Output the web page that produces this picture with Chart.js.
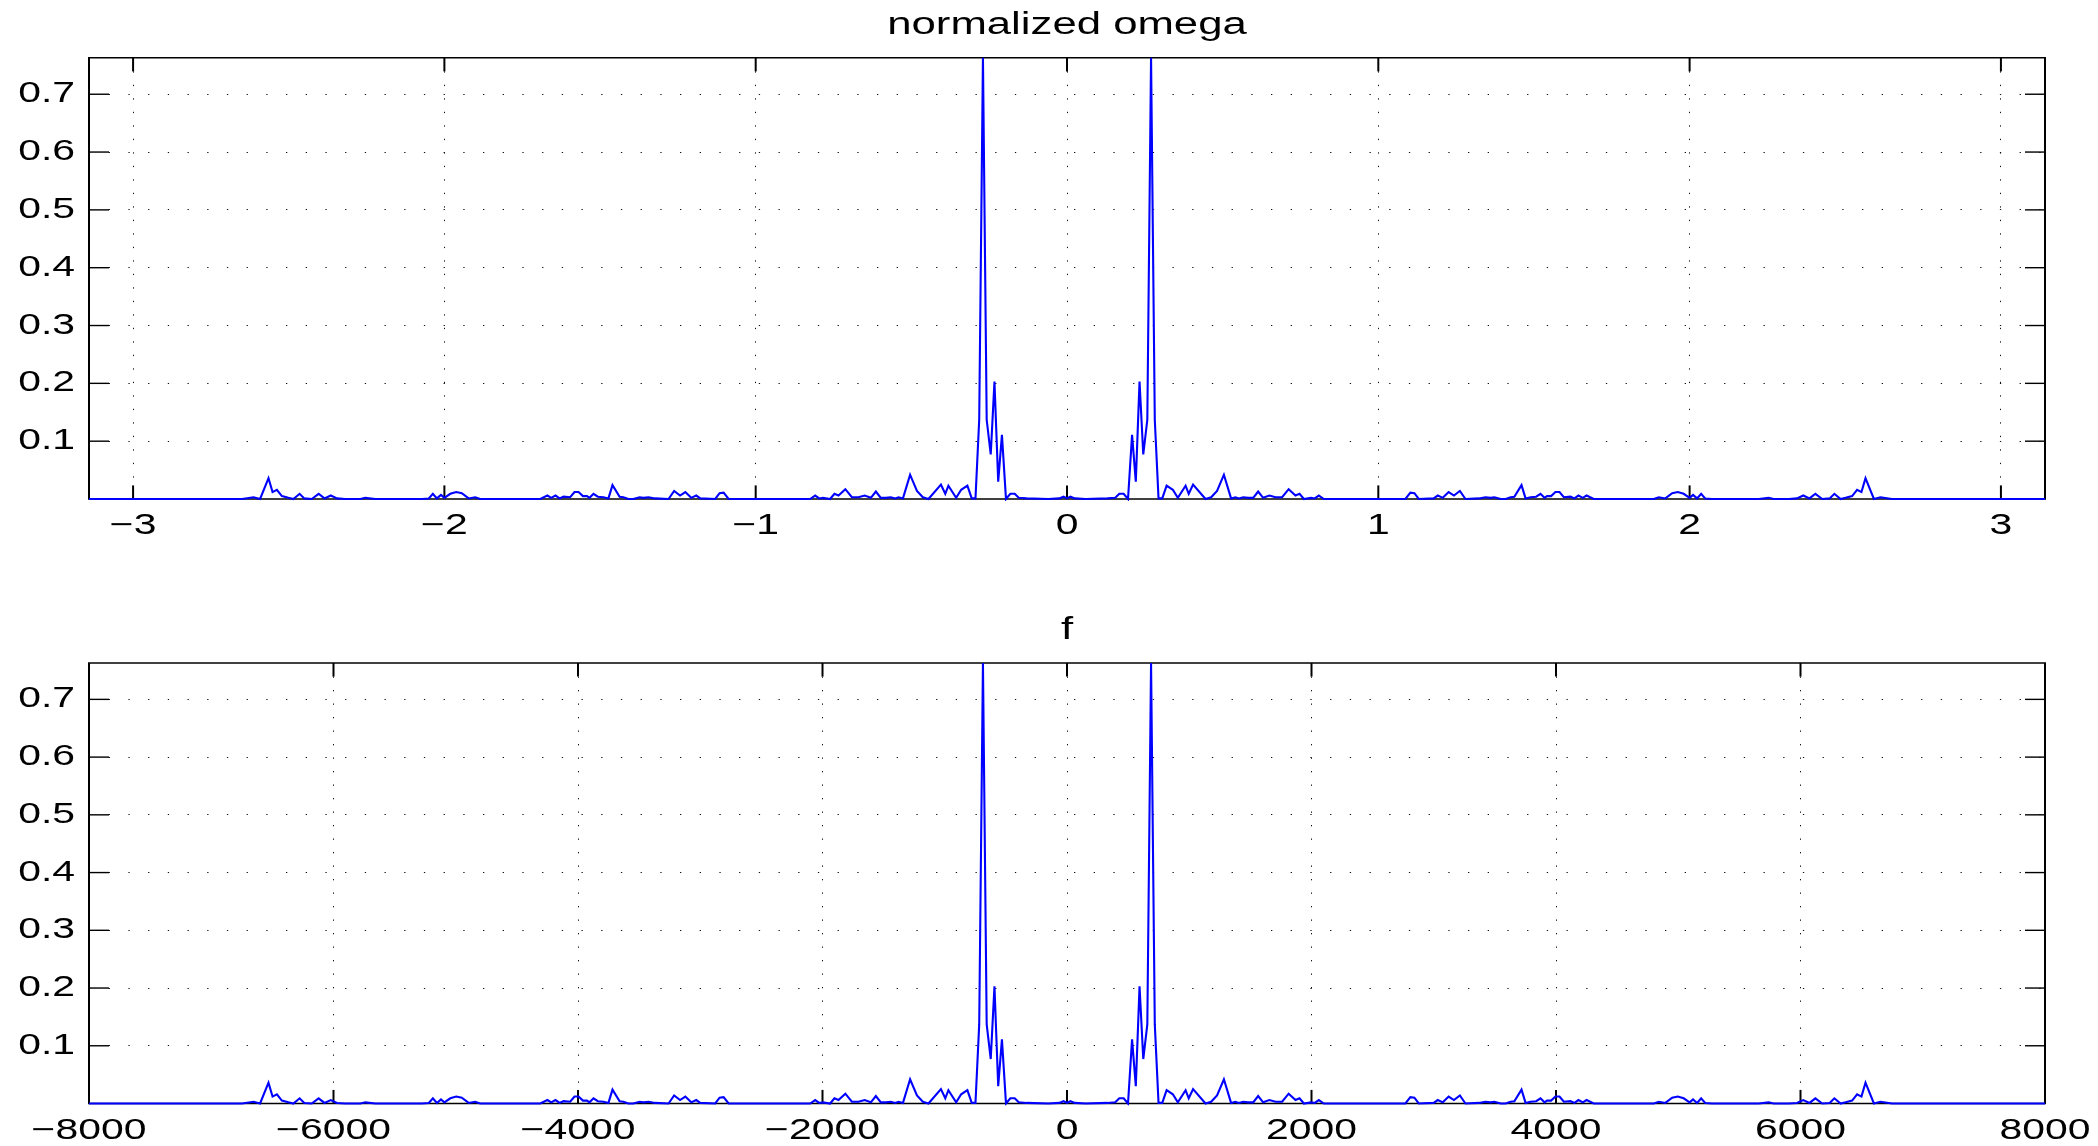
<!DOCTYPE html>
<html>
<head>
<meta charset="utf-8">
<script src="https://cdn.jsdelivr.net/npm/chart.js@4.4.0/dist/chart.umd.min.js"></script>
<style>
html, body { margin: 0; padding: 0; background: #fff; overflow: hidden; }
canvas { display: block; }
</style>
</head>
<body>
<canvas id="c1" width="2098" height="573"></canvas>
<canvas id="c2" width="2098" height="573"></canvas>
<script>
// ---------- data ----------
const omega = [
  -3.1416, -2.650, -2.613, -2.592, -2.565, -2.552, -2.538, -2.522, -2.501, -2.485,
  -2.465, -2.450, -2.426, -2.404, -2.385, -2.365, -2.345, -2.319, -2.270, -2.254,
  -2.222, -2.072, -2.050, -2.037, -2.024, -2.011, -2.000, -1.981, -1.962, -1.944,
  -1.922, -1.901, -1.885, -1.692, -1.669, -1.657, -1.643, -1.630, -1.617, -1.596,
  -1.582, -1.569, -1.555, -1.542, -1.534, -1.521, -1.507, -1.489, -1.473, -1.460,
  -1.437, -1.425, -1.409, -1.393, -1.373, -1.361, -1.344, -1.323, -1.280, -1.262,
  -1.243, -1.226, -1.207, -1.191, -1.178, -1.130, -1.116, -1.103, -1.087, -0.825,
  -0.809, -0.796, -0.784, -0.761, -0.747, -0.734, -0.712, -0.691, -0.670, -0.650,
  -0.630, -0.614, -0.598, -0.582, -0.566, -0.552, -0.541, -0.527, -0.504, -0.482,
  -0.463, -0.445, -0.405, -0.391, -0.381, -0.356, -0.340, -0.320, -0.306, -0.294,
  -0.282, -0.270, -0.258, -0.245, -0.233, -0.221, -0.209, -0.196, -0.182, -0.168,
  -0.155, -0.130, -0.060, -0.025, -0.011, 0.000,
  0.011, 0.025, 0.060, 0.130, 0.155, 0.168, 0.182, 0.196, 0.209, 0.221,
  0.233, 0.245, 0.258, 0.270, 0.282, 0.294, 0.306, 0.320, 0.340, 0.356,
  0.381, 0.391, 0.405, 0.445, 0.463, 0.482, 0.504, 0.527, 0.541, 0.552,
  0.566, 0.582, 0.598, 0.614, 0.630, 0.650, 0.670, 0.691, 0.712, 0.734,
  0.747, 0.761, 0.784, 0.796, 0.809, 0.825, 1.087, 1.103, 1.116, 1.130,
  1.178, 1.191, 1.207, 1.226, 1.243, 1.262, 1.280, 1.323, 1.344, 1.361,
  1.373, 1.393, 1.409, 1.425, 1.437, 1.460, 1.473, 1.489, 1.507, 1.521,
  1.534, 1.542, 1.555, 1.569, 1.582, 1.596, 1.617, 1.630, 1.643, 1.657,
  1.669, 1.692, 1.885, 1.901, 1.922, 1.944, 1.962, 1.981, 2.000, 2.011,
  2.024, 2.037, 2.050, 2.072, 2.222, 2.254, 2.270, 2.319, 2.345, 2.365,
  2.385, 2.404, 2.426, 2.450, 2.465, 2.485, 2.501, 2.522, 2.538, 2.552,
  2.565, 2.592, 2.613, 2.650, 3.1416
];
const magnitude = [
  0, 0, 0.003, 0, 0.036, 0.012, 0.016, 0.005, 0.002, 0,
  0.009, 0.001, 0, 0.009, 0.001, 0.006, 0.001, 0, 0, 0.002,
  0, 0, 0.001, 0.009, 0.001, 0.007, 0.002, 0.009, 0.012, 0.010,
  0.001, 0.003, 0, 0, 0.006, 0.002, 0.006, 0.001, 0.004, 0.003,
  0.012, 0.012, 0.005, 0.005, 0.002, 0.009, 0.004, 0.003, 0.001, 0.024,
  0.004, 0.003, 0, 0, 0.003, 0.002, 0.003, 0.001, 0, 0.014,
  0.006, 0.012, 0.002, 0.006, 0.001, 0, 0.010, 0.011, 0, 0,
  0.006, 0.001, 0.002, 0, 0.009, 0.006, 0.017, 0.003, 0.003, 0.006,
  0.002, 0.013, 0.002, 0.002, 0.003, 0.001, 0.003, 0.001, 0.042, 0.014,
  0.003, 0, 0.025, 0.009, 0.023, 0.002, 0.016, 0.023, 0.001, 0.001,
  0.137, 0.763, 0.137, 0.077, 0.203, 0.030, 0.111, 0, 0.009, 0.009,
  0.002, 0.001, 0, 0.001, 0.004, 0.001,
  0.004, 0.001, 0, 0.001, 0.002, 0.009, 0.009, 0, 0.111, 0.030,
  0.203, 0.077, 0.137, 0.763, 0.137, 0.001, 0.001, 0.023, 0.016, 0.002,
  0.023, 0.009, 0.025, 0, 0.003, 0.014, 0.042, 0.001, 0.003, 0.001,
  0.003, 0.002, 0.002, 0.013, 0.002, 0.006, 0.003, 0.003, 0.017, 0.006,
  0.009, 0, 0.002, 0.001, 0.006, 0, 0, 0.011, 0.010, 0,
  0.001, 0.006, 0.002, 0.012, 0.006, 0.014, 0, 0.001, 0.003, 0.002,
  0.003, 0, 0, 0.003, 0.004, 0.024, 0.001, 0.003, 0.004, 0.009,
  0.002, 0.005, 0.005, 0.012, 0.012, 0.003, 0.004, 0.001, 0.006, 0.002,
  0.006, 0, 0, 0.003, 0.001, 0.010, 0.012, 0.009, 0.002, 0.007,
  0.001, 0.009, 0.001, 0, 0, 0.002, 0, 0, 0.001, 0.006,
  0.001, 0.009, 0, 0.001, 0.009, 0, 0.002, 0.005, 0.016, 0.012,
  0.036, 0, 0.003, 0, 0
];
const sampleRate = 16000;           // Hz, so f = omega * fs / (2*pi)
const titles = ['normalized omega', 'f'];
const omegaTicks = [-3, -2, -1, 0, 1, 2, 3];
const omegaTickLabels = ['\u22123', '\u22122', '\u22121', '0', '1', '2', '3'];
const freqTicks = [-8000, -6000, -4000, -2000, 0, 2000, 4000, 6000, 8000];
const freqTickLabels = ['\u22128000', '\u22126000', '\u22124000', '\u22122000', '0', '2000', '4000', '6000', '8000'];
const magTicks = [0.1, 0.2, 0.3, 0.4, 0.5, 0.6, 0.7];
const magTickLabels = ['0.1', '0.2', '0.3', '0.4', '0.5', '0.6', '0.7'];
const magMax = 0.763;

// ---------- styling ----------
const FONT = "'Liberation Sans', Arial, Helvetica, sans-serif";
const SX = 1.41;          // the reference text is horizontally stretched
const X_TICK_LEN = 13.6;  // inner tick marks on x axes
const Y_TICK_LEN = 20;    // inner tick marks on y axes

function stretchText(canvas) {
  const ctx = canvas.getContext('2d');
  const orig = CanvasRenderingContext2D.prototype.fillText;
  ctx.fillText = function (text, x, y, maxWidth) {
    this.save();
    this.translate(x, y);
    this.scale(SX, 1);
    if (maxWidth === undefined || maxWidth === null) orig.call(this, text, 0, 0);
    else orig.call(this, text, 0, 0, maxWidth / SX);
    this.restore();
  };
}

const framePlugin = {
  id: 'frame',
  beforeDatasetsDraw(chart) {
    const { ctx, chartArea: a, scales } = chart;
    const xs = scales.x, ys = scales.y;
    const seg = (x1, y1, x2, y2) => { ctx.beginPath(); ctx.moveTo(x1, y1); ctx.lineTo(x2, y2); ctx.stroke(); };
    ctx.save();
    ctx.strokeStyle = '#000';
    ctx.lineWidth = 2;
    xs.ticks.forEach(t => {
      const px = xs.getPixelForValue(t.value);
      seg(px, a.bottom, px, a.bottom - X_TICK_LEN);
      seg(px, a.top, px, a.top + X_TICK_LEN);
    });
    ctx.lineWidth = 1.4;
    ys.ticks.forEach(t => {
      const py = ys.getPixelForValue(t.value);
      seg(a.left, py, a.left + Y_TICK_LEN, py);
      seg(a.right, py, a.right - Y_TICK_LEN, py);
    });
    ctx.lineWidth = 1.4;
    seg(a.left - 1, a.top, a.right + 1, a.top);
    seg(a.left - 1, a.bottom, a.right + 1, a.bottom);
    ctx.lineWidth = 2;
    seg(a.left, a.top, a.left, a.bottom);
    seg(a.right, a.top, a.right, a.bottom);
    ctx.restore();
  }
};

function makeChart(canvasId, cfg) {
  const canvas = document.getElementById(canvasId);
  stretchText(canvas);
  const points = cfg.xValues.map((x, i) => ({ x: x, y: magnitude[i] }));
  return new Chart(canvas, {
    type: 'line',
    data: {
      datasets: [{
        data: points,
        borderColor: '#0000ff',
        borderWidth: 2.1,
        pointRadius: 0,
        tension: 0,
        fill: false,
        clip: { left: 0, right: 0, top: 2, bottom: 2 }
      }]
    },
    options: {
      responsive: false,
      devicePixelRatio: 1,
      animation: false,
      events: [],
      layout: { padding: { left: 0, right: 53, top: 0, bottom: 0 } },
      plugins: {
        legend: { display: false },
        tooltip: { enabled: false },
        title: {
          display: true,
          fullSize: false,       // centre the title over the axes, as in the reference
          text: cfg.title,
          color: '#000',
          font: { family: FONT, size: 31, weight: 'normal', lineHeight: 1.2 },
          padding: cfg.titlePadding
        }
      },
      scales: {
        x: {
          type: 'linear',
          position: 'bottom',
          min: cfg.min,
          max: cfg.max,
          afterBuildTicks: s => { s.ticks = cfg.ticks.map(v => ({ value: v })); },
          afterFit: s => { s.height = cfg.xAxisHeight; s.paddingLeft = 0; s.paddingRight = 0; },
          ticks: {
            autoSkip: false, maxRotation: 0, minRotation: 0, padding: 10,
            color: '#000', font: { family: FONT, size: 29 },
            callback: (v, i) => cfg.tickLabels[i]
          },
          grid: { color: '#111', lineWidth: 1, drawTicks: false },
          border: { display: false, dash: [1.3, 12.2] }
        },
        y: {
          type: 'linear',
          position: 'left',
          min: 0,
          max: magMax,
          afterBuildTicks: s => { s.ticks = magTicks.map(v => ({ value: v })); },
          afterFit: s => { s.width = 89; s.paddingTop = 0; s.paddingBottom = 0; },
          ticks: {
            autoSkip: false, padding: 14,
            color: '#000', font: { family: FONT, size: 29 },
            callback: (v, i) => magTickLabels[i]
          },
          grid: { color: '#111', lineWidth: 1, drawTicks: false },
          border: { display: false, dash: [1.3, 18.4] }
        }
      }
    },
    plugins: [framePlugin]
  });
}

const freq = omega.map(w => w * sampleRate / (2 * Math.PI));

makeChart('c1', {
  title: titles[0],
  xValues: omega,
  min: -Math.PI, max: Math.PI,
  ticks: omegaTicks, tickLabels: omegaTickLabels,
  titlePadding: { top: 6.4, bottom: 14.2 },
  xAxisHeight: 74
});
makeChart('c2', {
  title: titles[1],
  xValues: freq,
  min: -sampleRate / 2, max: sampleRate / 2,
  ticks: freqTicks, tickLabels: freqTickLabels,
  titlePadding: { top: 38.7, bottom: 14.1 },
  xAxisHeight: 42.5
});
</script>
</body>
</html>
